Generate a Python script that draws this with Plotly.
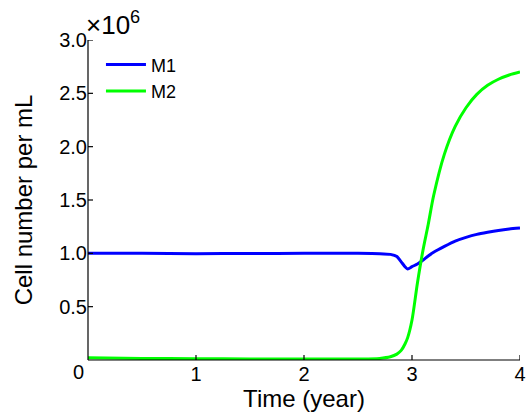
import plotly.graph_objects as go

time_years = [0, 0.5, 1, 1.5, 2, 2.5, 2.7, 2.8, 2.86, 2.9, 2.935, 2.96, 3.0, 3.05, 3.1, 3.15, 3.2, 3.3, 3.4, 3.5, 3.6, 3.7, 3.8, 3.9, 4.0]
m1_values = [1.0, 1.0, 0.997, 0.998, 1.0, 1.0, 0.997, 0.99, 0.97, 0.92, 0.875, 0.853, 0.875, 0.90, 0.935, 0.975, 1.01, 1.065, 1.115, 1.15, 1.178, 1.198, 1.215, 1.228, 1.237]
m2_values = [0.02, 0.015, 0.012, 0.01, 0.01, 0.01, 0.015, 0.03, 0.055, 0.09, 0.15, 0.21, 0.375, 0.72, 1.02, 1.27, 1.54, 1.93, 2.19, 2.365, 2.49, 2.575, 2.632, 2.672, 2.70]

x_ticks = [1, 2, 3, 4]
y_ticks = [0.5, 1.0, 1.5, 2.0, 2.5, 3.0]
y_tick_labels = ["0.5", "1.0", "1.5", "2.0", "2.5", "3.0"]

font_family = "Liberation Sans, Arial, sans-serif"

fig = go.Figure()
fig.add_trace(go.Scatter(x=time_years, y=m1_values, mode="lines", name="M1",
                         line=dict(color="#0000ff", width=3, shape="spline", smoothing=0.6)))
fig.add_trace(go.Scatter(x=time_years, y=m2_values, mode="lines", name="M2",
                         line=dict(color="#00ff00", width=3, shape="spline", smoothing=0.8)))

fig.update_layout(
    width=531, height=420,
    margin=dict(l=88, r=11, t=40, b=60, autoexpand=False),
    paper_bgcolor="white", plot_bgcolor="white",
    font=dict(family=font_family, size=20, color="black"),
    showlegend=True,
    legend=dict(x=0.03, y=0.98, xanchor="left", yanchor="top",
                bgcolor="rgba(0,0,0,0)", borderwidth=0,
                font=dict(size=18), tracegroupgap=0, itemwidth=40),
    xaxis=dict(range=[0, 4], tickvals=x_ticks, ticktext=[str(v) for v in x_ticks],
               ticks="", showline=False,
               showgrid=False, zeroline=False, automargin=False,
               title=dict(text="Time (year)", standoff=6)),
    yaxis=dict(range=[0, 3], tickvals=y_ticks, ticktext=y_tick_labels,
               ticks="", showline=False,
               showgrid=False, zeroline=False, automargin=False,
               title=dict(text="Cell number per mL", standoff=19)),
)

axis_line = dict(color="#000000", width=1.2)
# axis lines (left and bottom)
fig.add_shape(type="line", xref="paper", yref="paper", x0=0, x1=1, y0=0, y1=0, line=axis_line, layer="above")
fig.add_shape(type="line", xref="paper", yref="paper", x0=0, x1=0, y0=0, y1=1, line=axis_line, layer="above")
# inside tick marks derived from the tick arrays
for t in x_ticks:
    fig.add_shape(type="line", xref="x", yref="y", x0=t, x1=t,
                  ysizemode="pixel", yanchor=0, y0=0, y1=5, line=axis_line, layer="above")
for v in y_ticks:
    fig.add_shape(type="line", xref="x", yref="y", y0=v, y1=v,
                  xsizemode="pixel", xanchor=0, x0=0, x1=5, line=axis_line, layer="above")

fig.add_annotation(x=0, y=0, xref="x", yref="y", text="0", showarrow=False,
                   xanchor="right", yanchor="middle", xshift=-2, yshift=-12,
                   font=dict(size=20))
fig.add_annotation(x=0, y=1, xref="paper", yref="paper", text="×10<sup>6</sup>",
                   showarrow=False, xanchor="left", yanchor="bottom", xshift=-4, yshift=-2,
                   font=dict(size=26))

post = "document.body.style.margin='0';"
fig.write_html("out.html", post_script=post, config={"displayModeBar": False})
